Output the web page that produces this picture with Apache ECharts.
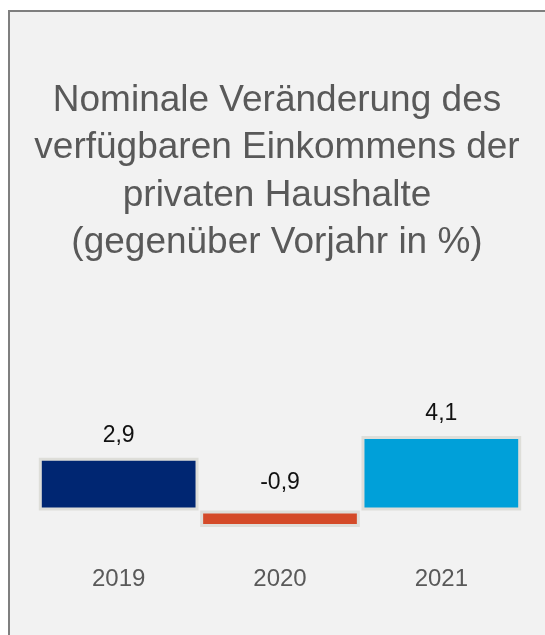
<!DOCTYPE html>
<html>
<head>
<meta charset="utf-8">
<script src="https://cdn.jsdelivr.net/npm/echarts@6/dist/echarts.min.js"></script>
<style>
  html, body { margin: 0; padding: 0; background: #fff; }
  #chart { width: 545px; height: 635px; }
</style>
</head>
<body>
<div id="chart"></div>
<script>
const titleLines = [
  'Nominale Veränderung des',
  'verfügbaren Einkommens der',
  'privaten Haushalte',
  '(gegenüber Vorjahr in %)'
]
const years = ['2019', '2020', '2021']
const changes = [2.9, -0.9, 4.1]
const barColors = ['#002672', '#D44A28', '#00A0D9']

const chart = echarts.init(document.getElementById('chart'))

chart.setOption({
  backgroundColor: '#fff',
  animation: false,
  graphic: [
    {
      type: 'rect',
      z: -10,
      shape: { x: 9, y: 11, width: 700, height: 800 },
      style: { fill: '#F2F2F2', stroke: '#7F7F7F', lineWidth: 2 },
    },
  ],
  title: {
    text: titleLines.join('\n'),
    left: 277,
    top: 77,
    padding: 0,
    textAlign: 'center',
    textStyle: {
      fontFamily: 'Liberation Sans',
      fontSize: 37,
      fontWeight: 'normal',
      lineHeight: 47.5,
      color: '#595959',
    },
  },
  grid: { left: 38, width: 484, top: 419.5, height: 127.4 },
  xAxis: {
    type: 'category',
    data: years,
    axisLine: { show: false, onZero: false },
    axisTick: { show: false },
    axisLabel: {
      margin: 20,
      fontFamily: 'Liberation Sans',
      fontSize: 24,
      color: '#595959',
    },
  },
  yAxis: {
    type: 'value',
    min: -2,
    max: 5,
    show: false,
    splitLine: { show: false },
  },
  series: [
    {
      type: 'bar',
      barCategoryGap: '1%',
      data: changes.map((v, i) => ({
        value: v,
        itemStyle: { color: barColors[i] },
        label: { distance: v < 0 ? 16 : 11 },
      })),
      itemStyle: { borderColor: '#DEDED9', borderWidth: 3 },
      label: {
        show: true,
        position: 'top',
        fontFamily: 'Liberation Sans',
        fontSize: 23,
        color: '#111',
        formatter: (p) => String(p.value).replace('.', ','),
      },
    },
  ],
})
</script>
</body>
</html>
